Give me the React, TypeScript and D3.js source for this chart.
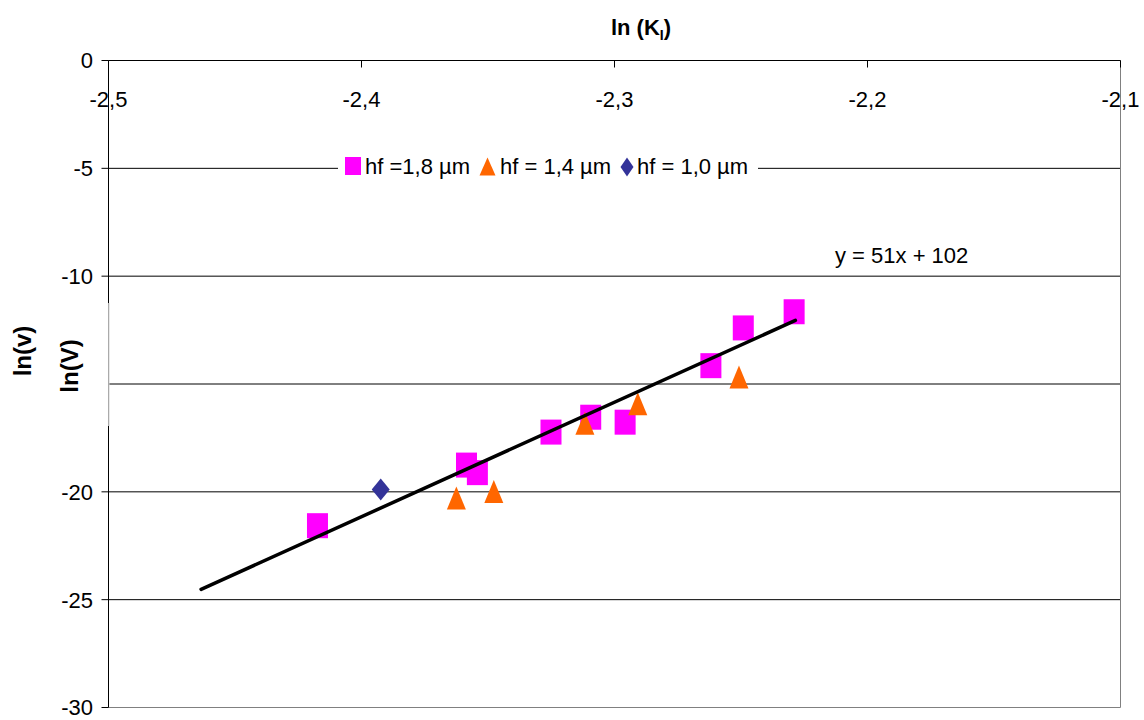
import React from "react";
import * as d3 from "d3";

const xTicks = [-2.5, -2.4, -2.3, -2.2, -2.1];
const yTicks = [0, -5, -10, -15, -20, -25, -30];

const sq18X = [-2.4174, -2.3585, -2.3542, -2.3251, -2.3094, -2.2958, -2.2619, -2.2491, -2.229];
const sq18Y = [-21.57, -18.76, -19.11, -17.23, -16.54, -16.77, -14.15, -12.4, -11.65];
const tri14X = [-2.3625, -2.3477, -2.3117, -2.2908, -2.2508];
const tri14Y = [-20.29, -19.98, -16.82, -15.92, -14.68];
const dia10X = [-2.3924];
const dia10Y = [-19.89];

const trendX = [-2.4634, -2.2285];
const trendY = [-24.52, -12.05];

const seriesLabels = ["hf =1,8 µm", "hf = 1,4 µm", "hf = 1,0 µm"];
const equation = "y = 51x + 102";

const FONT = "'Liberation Sans', Arial, sans-serif";
const PINK = "#FF00FF";
const ORANGE = "#FF6600";
const BLUE = "#333399";

const fmt = (v: number) => String(v).replace(".", ",");

function Square({ cx, cy, w = 21, h = 25 }: any) {
  return <rect x={cx - w / 2} y={cy - h / 2} width={w} height={h} fill={PINK} />;
}
function Triangle({ cx, cy, w = 19, h = 23 }: any) {
  const p = `${cx},${cy - h / 2} ${cx + w / 2},${cy + h / 2} ${cx - w / 2},${cy + h / 2}`;
  return <polygon points={p} fill={ORANGE} />;
}
function Diamond({ cx, cy, w = 18, h = 22 }: any) {
  const p = `${cx},${cy - h / 2} ${cx + w / 2},${cy} ${cx},${cy + h / 2} ${cx - w / 2},${cy}`;
  return <polygon points={p} fill={BLUE} />;
}

export default function App() {
  const x = d3.scaleLinear().domain([-2.5, -2.1]).range([108.5, 1120.5]);
  const y = d3.scaleLinear().domain([0, -30]).range([60.5, 707.5]);
  const line = d3
    .line<number>()
    .x((_, i) => x(trendX[i]))
    .y((_, i) => y(trendY[i]));

  return (
    <svg
      width={1144}
      height={720}
      style={{ position: "absolute", left: 0, top: 0, background: "#fff" }}
      fontFamily={FONT}
    >
      <rect x={0} y={0} width={1144} height={720} fill="#fff" />
      {/* gridlines */}
      {yTicks
        .filter((t) => t !== 0 && t !== -30)
        .map((t) => (
          <line key={"g" + t} x1={x(-2.5)} x2={x(-2.1)} y1={y(t)} y2={y(t)} stroke="#000" strokeWidth={1} />
        ))}
      {/* bottom & right border */}
      <line x1={x(-2.5)} x2={x(-2.1)} y1={y(-30)} y2={y(-30)} stroke="#808080" strokeWidth={1} />
      <line x1={x(-2.1)} x2={x(-2.1)} y1={y(0)} y2={y(-30)} stroke="#808080" strokeWidth={1} />
      {/* y axis */}
      <line x1={x(-2.5)} x2={x(-2.5)} y1={y(0)} y2={y(-30)} stroke="#000" strokeWidth={1} />
      {yTicks.map((t) => (
        <g key={"y" + t}>
          <line x1={x(-2.5) - 7} x2={x(-2.5)} y1={y(t)} y2={y(t)} stroke="#000" />
          <text x={93} y={y(t)} dy="0.36em" textAnchor="end" fontSize={22}>
            {fmt(t)}
          </text>
        </g>
      ))}
      {/* x axis at top */}
      <line x1={x(-2.5)} x2={x(-2.1)} y1={y(0)} y2={y(0)} stroke="#000" strokeWidth={1} />
      {xTicks.map((t) => (
        <g key={"x" + t}>
          <line x1={x(t)} x2={x(t)} y1={y(0)} y2={y(0) + 7} stroke="#000" />
          <text x={x(t)} y={107} textAnchor="middle" fontSize={22}>
            {fmt(t)}
          </text>
        </g>
      ))}
      {/* white patch over axis labels */}
      <rect x={0} y={303} width={108.5} height={123} fill="#fff" />
      <line x1={109} x2={109} y1={303} y2={426} stroke="#d4d4d4" strokeWidth={1} />
      <text transform="translate(31,351) rotate(-90)" textAnchor="middle" fontSize={24} fontWeight="bold">
        ln(v)
      </text>
      <text transform="translate(78,366) rotate(-90)" textAnchor="middle" fontSize={24} fontWeight="bold">
        ln(V)
      </text>
      {/* title */}
      <text x={641} y={35} textAnchor="middle" fontSize={22} fontWeight="bold">
        ln (K
        <tspan fontSize={14} dy={5}>
          I
        </tspan>
        <tspan dy={-5}>)</tspan>
      </text>
      {/* legend */}
      <rect x={338} y={153} width={420} height={28} fill="#fff" />
      <rect x={345} y={157} width={16} height={18} fill={PINK} />
      <text x={365} y={174} fontSize={22}>
        {seriesLabels[0]}
      </text>
      <Triangle cx={487.5} cy={166.5} w={16} h={18} />
      <text x={500} y={174} fontSize={22}>
        {seriesLabels[1]}
      </text>
      <Diamond cx={627} cy={167} w={13} h={19} />
      <text x={637} y={174} fontSize={22}>
        {seriesLabels[2]}
      </text>
      {/* equation */}
      <text x={835} y={263} fontSize={22}>
        {equation}
      </text>
      {/* markers */}
      {sq18X.map((v, i) => (
        <Square key={"s" + i} cx={x(v)} cy={y(sq18Y[i])} />
      ))}
      {tri14X.map((v, i) => (
        <Triangle key={"t" + i} cx={x(v)} cy={y(tri14Y[i])} />
      ))}
      {dia10X.map((v, i) => (
        <Diamond key={"d" + i} cx={x(v)} cy={y(dia10Y[i])} />
      ))}
      {/* trend line */}
      <path d={line(trendX) || ""} fill="none" stroke="#000" strokeWidth={3.5} strokeLinecap="round" />
    </svg>
  );
}
